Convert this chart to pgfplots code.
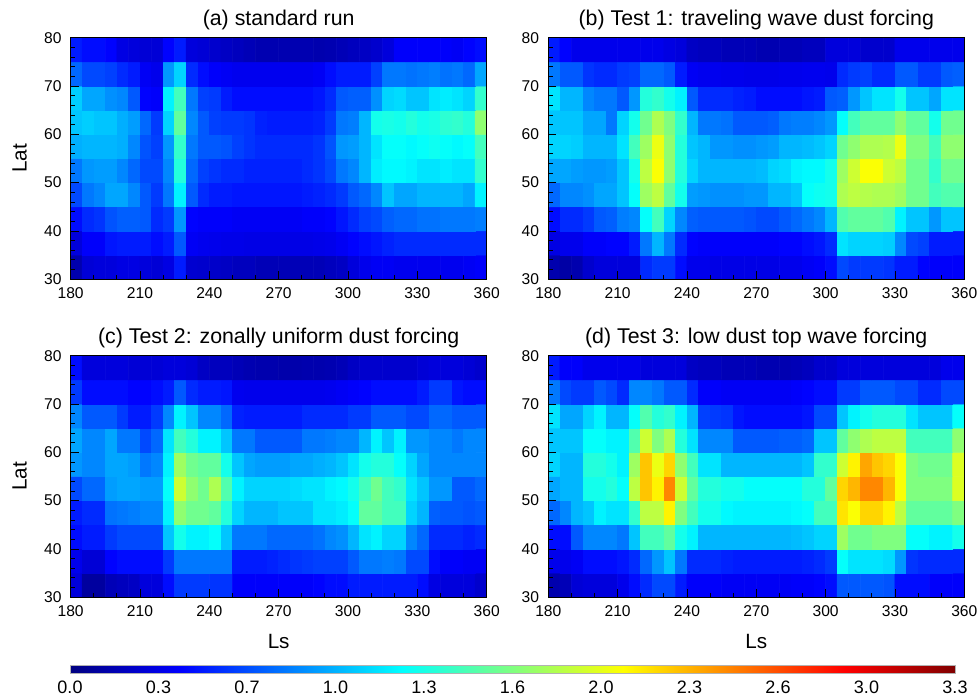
\documentclass[border=0pt]{standalone}
\usepackage{pgfplots}
\pgfplotsset{compat=1.18}
\usepackage{pgfplotstable}
\usepackage{fontspec}
\setmainfont{Liberation Sans}

% values: rows from Lat 30-35 (bottom) to 75-80 (top); 36 columns Ls 180-185 ... 355-360
\pgfplotstableread[header=false,row sep=\\]{
0.15\\ 0.28\\ 0.30\\ 0.30\\ 0.32\\ 0.32\\ 0.30\\ 0.28\\ 0.32\\ 0.50\\ 0.26\\ 0.25\\ 0.24\\ 0.22\\ 0.20\\ 0.20\\ 0.18\\ 0.18\\ 0.18\\ 0.18\\ 0.18\\ 0.18\\ 0.20\\ 0.22\\ 0.30\\ 0.35\\ 0.38\\ 0.38\\ 0.36\\ 0.36\\ 0.36\\ 0.36\\ 0.36\\ 0.36\\ 0.38\\ 0.40\\
0.30\\ 0.40\\ 0.40\\ 0.48\\ 0.50\\ 0.50\\ 0.50\\ 0.45\\ 0.50\\ 0.70\\ 0.38\\ 0.36\\ 0.35\\ 0.34\\ 0.34\\ 0.33\\ 0.33\\ 0.33\\ 0.33\\ 0.33\\ 0.33\\ 0.34\\ 0.35\\ 0.38\\ 0.42\\ 0.45\\ 0.48\\ 0.52\\ 0.55\\ 0.55\\ 0.55\\ 0.55\\ 0.55\\ 0.55\\ 0.55\\ 0.55\\
0.45\\ 0.55\\ 0.58\\ 0.68\\ 0.72\\ 0.72\\ 0.70\\ 0.55\\ 0.60\\ 0.90\\ 0.42\\ 0.40\\ 0.40\\ 0.40\\ 0.38\\ 0.38\\ 0.38\\ 0.38\\ 0.38\\ 0.38\\ 0.40\\ 0.40\\ 0.42\\ 0.48\\ 0.55\\ 0.62\\ 0.65\\ 0.72\\ 0.75\\ 0.75\\ 0.78\\ 0.78\\ 0.80\\ 0.80\\ 0.80\\ 0.82\\
0.65\\ 0.80\\ 0.85\\ 0.95\\ 0.95\\ 0.85\\ 0.70\\ 0.60\\ 0.80\\ 1.20\\ 0.70\\ 0.55\\ 0.50\\ 0.50\\ 0.48\\ 0.48\\ 0.48\\ 0.48\\ 0.48\\ 0.48\\ 0.50\\ 0.52\\ 0.55\\ 0.60\\ 0.70\\ 0.75\\ 0.85\\ 1.05\\ 0.95\\ 0.95\\ 1.00\\ 1.00\\ 1.00\\ 1.00\\ 0.95\\ 1.20\\
0.80\\ 0.90\\ 0.92\\ 0.92\\ 0.85\\ 0.75\\ 0.65\\ 0.65\\ 0.85\\ 1.35\\ 0.75\\ 0.62\\ 0.58\\ 0.55\\ 0.55\\ 0.52\\ 0.52\\ 0.52\\ 0.52\\ 0.52\\ 0.55\\ 0.58\\ 0.65\\ 0.80\\ 0.85\\ 1.00\\ 1.18\\ 1.22\\ 1.22\\ 1.20\\ 1.15\\ 1.15\\ 1.18\\ 1.15\\ 1.15\\ 1.40\\
0.98\\ 1.00\\ 1.00\\ 1.00\\ 0.98\\ 0.85\\ 0.68\\ 0.62\\ 0.90\\ 1.40\\ 0.80\\ 0.70\\ 0.70\\ 0.68\\ 0.62\\ 0.58\\ 0.55\\ 0.55\\ 0.55\\ 0.55\\ 0.55\\ 0.58\\ 0.68\\ 0.90\\ 0.92\\ 1.00\\ 1.15\\ 1.25\\ 1.25\\ 1.22\\ 1.25\\ 1.28\\ 1.25\\ 1.22\\ 1.25\\ 1.45\\
1.05\\ 1.08\\ 1.05\\ 1.05\\ 0.98\\ 0.92\\ 0.75\\ 0.60\\ 1.10\\ 1.55\\ 0.85\\ 0.70\\ 0.62\\ 0.60\\ 0.60\\ 0.58\\ 0.52\\ 0.50\\ 0.50\\ 0.50\\ 0.50\\ 0.52\\ 0.60\\ 0.80\\ 0.82\\ 1.00\\ 1.30\\ 1.32\\ 1.30\\ 1.35\\ 1.30\\ 1.32\\ 1.38\\ 1.40\\ 1.35\\ 1.70\\
1.08\\ 0.95\\ 0.95\\ 0.88\\ 0.85\\ 0.70\\ 0.42\\ 0.40\\ 1.20\\ 1.45\\ 0.80\\ 0.62\\ 0.60\\ 0.50\\ 0.45\\ 0.45\\ 0.45\\ 0.45\\ 0.45\\ 0.45\\ 0.45\\ 0.48\\ 0.55\\ 0.70\\ 0.72\\ 0.72\\ 0.88\\ 1.10\\ 1.12\\ 1.05\\ 1.05\\ 1.15\\ 1.18\\ 1.15\\ 1.10\\ 1.40\\
0.75\\ 0.65\\ 0.65\\ 0.62\\ 0.55\\ 0.50\\ 0.38\\ 0.35\\ 0.90\\ 1.10\\ 0.55\\ 0.45\\ 0.40\\ 0.38\\ 0.36\\ 0.36\\ 0.36\\ 0.36\\ 0.36\\ 0.36\\ 0.36\\ 0.38\\ 0.45\\ 0.50\\ 0.50\\ 0.50\\ 0.62\\ 0.80\\ 0.80\\ 0.78\\ 0.80\\ 0.82\\ 0.78\\ 0.80\\ 0.75\\ 0.95\\
0.50\\ 0.45\\ 0.45\\ 0.42\\ 0.32\\ 0.30\\ 0.28\\ 0.28\\ 0.42\\ 0.50\\ 0.30\\ 0.28\\ 0.25\\ 0.22\\ 0.20\\ 0.18\\ 0.16\\ 0.16\\ 0.16\\ 0.16\\ 0.16\\ 0.15\\ 0.16\\ 0.18\\ 0.20\\ 0.22\\ 0.25\\ 0.30\\ 0.40\\ 0.40\\ 0.40\\ 0.40\\ 0.40\\ 0.38\\ 0.42\\ 0.45\\
}\dataA

\pgfplotstableread[header=false,row sep=\\]{
0.15\\ 0.12\\ 0.15\\ 0.25\\ 0.30\\ 0.30\\ 0.30\\ 0.30\\ 0.55\\ 0.60\\ 0.60\\ 0.45\\ 0.35\\ 0.35\\ 0.33\\ 0.33\\ 0.33\\ 0.33\\ 0.33\\ 0.33\\ 0.35\\ 0.35\\ 0.38\\ 0.40\\ 0.45\\ 0.65\\ 0.60\\ 0.60\\ 0.60\\ 0.58\\ 0.50\\ 0.50\\ 0.42\\ 0.40\\ 0.40\\ 0.40\\
0.32\\ 0.35\\ 0.35\\ 0.40\\ 0.40\\ 0.42\\ 0.42\\ 0.50\\ 0.80\\ 1.00\\ 0.80\\ 0.55\\ 0.42\\ 0.40\\ 0.40\\ 0.40\\ 0.40\\ 0.40\\ 0.40\\ 0.40\\ 0.42\\ 0.42\\ 0.45\\ 0.48\\ 0.55\\ 1.15\\ 1.10\\ 1.10\\ 1.10\\ 1.08\\ 0.85\\ 0.65\\ 0.62\\ 0.50\\ 0.50\\ 0.50\\
0.45\\ 0.55\\ 0.55\\ 0.60\\ 0.70\\ 0.72\\ 0.82\\ 0.85\\ 1.25\\ 1.45\\ 1.10\\ 0.85\\ 0.72\\ 0.70\\ 0.70\\ 0.70\\ 0.70\\ 0.68\\ 0.65\\ 0.65\\ 0.70\\ 0.75\\ 0.80\\ 0.85\\ 1.00\\ 1.50\\ 1.55\\ 1.55\\ 1.55\\ 1.50\\ 1.20\\ 1.05\\ 1.05\\ 0.90\\ 1.05\\ 1.05\\
0.75\\ 0.85\\ 0.85\\ 0.88\\ 0.95\\ 0.95\\ 1.05\\ 1.25\\ 1.75\\ 1.85\\ 1.55\\ 1.30\\ 0.92\\ 0.90\\ 0.88\\ 0.88\\ 0.88\\ 0.90\\ 0.90\\ 1.00\\ 1.00\\ 1.05\\ 1.25\\ 1.28\\ 1.30\\ 1.80\\ 1.85\\ 1.82\\ 1.80\\ 1.80\\ 1.75\\ 1.60\\ 1.60\\ 1.45\\ 1.50\\ 1.50\\
0.95\\ 0.95\\ 0.92\\ 0.90\\ 0.90\\ 0.92\\ 1.05\\ 1.30\\ 1.85\\ 2.05\\ 1.70\\ 1.35\\ 1.10\\ 1.00\\ 1.00\\ 1.00\\ 1.00\\ 1.00\\ 1.02\\ 1.10\\ 1.12\\ 1.20\\ 1.22\\ 1.22\\ 1.30\\ 1.75\\ 1.90\\ 2.05\\ 2.05\\ 1.90\\ 1.85\\ 1.60\\ 1.60\\ 1.40\\ 1.60\\ 1.60\\
1.10\\ 1.10\\ 1.08\\ 1.00\\ 1.00\\ 1.00\\ 1.15\\ 1.45\\ 1.75\\ 2.00\\ 1.70\\ 1.35\\ 1.05\\ 1.00\\ 0.90\\ 0.90\\ 0.88\\ 0.88\\ 0.90\\ 0.92\\ 1.00\\ 1.00\\ 1.02\\ 1.05\\ 1.10\\ 1.60\\ 1.70\\ 1.80\\ 1.80\\ 1.82\\ 2.00\\ 1.65\\ 1.65\\ 1.45\\ 1.70\\ 1.70\\
1.05\\ 1.05\\ 1.05\\ 0.95\\ 0.95\\ 0.80\\ 1.10\\ 1.30\\ 1.60\\ 1.80\\ 1.65\\ 1.40\\ 1.00\\ 0.80\\ 0.80\\ 0.78\\ 0.70\\ 0.70\\ 0.70\\ 0.72\\ 0.80\\ 0.82\\ 0.82\\ 0.85\\ 0.90\\ 1.25\\ 1.45\\ 1.55\\ 1.55\\ 1.55\\ 1.70\\ 1.55\\ 1.55\\ 1.30\\ 1.60\\ 1.60\\
1.15\\ 1.00\\ 1.00\\ 0.85\\ 0.80\\ 0.80\\ 0.70\\ 0.90\\ 1.35\\ 1.40\\ 1.30\\ 1.20\\ 0.70\\ 0.55\\ 0.55\\ 0.55\\ 0.52\\ 0.50\\ 0.45\\ 0.45\\ 0.45\\ 0.45\\ 0.48\\ 0.50\\ 0.70\\ 0.72\\ 0.90\\ 1.05\\ 1.15\\ 1.15\\ 1.30\\ 1.05\\ 1.05\\ 0.95\\ 1.15\\ 1.15\\
0.80\\ 0.70\\ 0.70\\ 0.58\\ 0.55\\ 0.55\\ 0.60\\ 0.62\\ 0.75\\ 0.75\\ 0.70\\ 0.50\\ 0.38\\ 0.36\\ 0.36\\ 0.35\\ 0.35\\ 0.34\\ 0.34\\ 0.34\\ 0.35\\ 0.35\\ 0.36\\ 0.36\\ 0.35\\ 0.55\\ 0.60\\ 0.62\\ 0.55\\ 0.55\\ 0.70\\ 0.70\\ 0.60\\ 0.60\\ 0.70\\ 0.72\\
0.50\\ 0.42\\ 0.35\\ 0.35\\ 0.35\\ 0.35\\ 0.35\\ 0.35\\ 0.35\\ 0.35\\ 0.32\\ 0.30\\ 0.22\\ 0.20\\ 0.20\\ 0.18\\ 0.18\\ 0.18\\ 0.16\\ 0.16\\ 0.18\\ 0.18\\ 0.20\\ 0.20\\ 0.30\\ 0.30\\ 0.30\\ 0.25\\ 0.25\\ 0.25\\ 0.35\\ 0.35\\ 0.35\\ 0.35\\ 0.35\\ 0.35\\
}\dataB

\pgfplotstableread[header=false,row sep=\\]{
0.30\\ 0.10\\ 0.10\\ 0.18\\ 0.20\\ 0.22\\ 0.30\\ 0.30\\ 0.45\\ 0.60\\ 0.60\\ 0.60\\ 0.58\\ 0.58\\ 0.40\\ 0.40\\ 0.40\\ 0.40\\ 0.40\\ 0.40\\ 0.40\\ 0.42\\ 0.45\\ 0.45\\ 0.50\\ 0.50\\ 0.50\\ 0.50\\ 0.50\\ 0.50\\ 0.45\\ 0.32\\ 0.30\\ 0.30\\ 0.30\\ 0.25\\
0.35\\ 0.28\\ 0.28\\ 0.42\\ 0.45\\ 0.45\\ 0.45\\ 0.45\\ 0.60\\ 0.80\\ 0.80\\ 0.80\\ 0.80\\ 0.80\\ 0.50\\ 0.50\\ 0.50\\ 0.52\\ 0.55\\ 0.58\\ 0.60\\ 0.62\\ 0.62\\ 0.62\\ 0.70\\ 0.80\\ 0.80\\ 0.82\\ 0.80\\ 0.65\\ 0.65\\ 0.45\\ 0.40\\ 0.40\\ 0.38\\ 0.38\\
0.45\\ 0.50\\ 0.50\\ 0.60\\ 0.65\\ 0.65\\ 0.65\\ 0.65\\ 1.05\\ 1.30\\ 1.20\\ 1.20\\ 1.25\\ 1.05\\ 0.80\\ 0.80\\ 0.80\\ 0.75\\ 0.75\\ 0.75\\ 0.75\\ 0.78\\ 0.85\\ 0.88\\ 1.00\\ 1.15\\ 1.20\\ 1.10\\ 1.10\\ 0.85\\ 0.75\\ 0.55\\ 0.55\\ 0.55\\ 0.52\\ 0.55\\
0.50\\ 0.55\\ 0.55\\ 0.78\\ 0.80\\ 0.82\\ 0.85\\ 0.85\\ 1.20\\ 1.70\\ 1.60\\ 1.60\\ 1.55\\ 1.35\\ 1.10\\ 1.00\\ 1.00\\ 1.00\\ 1.05\\ 1.05\\ 1.05\\ 1.15\\ 1.15\\ 1.18\\ 1.25\\ 1.55\\ 1.55\\ 1.45\\ 1.45\\ 1.10\\ 1.00\\ 0.72\\ 0.70\\ 0.70\\ 0.68\\ 0.70\\
0.65\\ 0.75\\ 0.75\\ 0.92\\ 0.95\\ 0.95\\ 0.92\\ 0.92\\ 1.25\\ 1.90\\ 1.70\\ 1.60\\ 1.80\\ 1.50\\ 1.20\\ 1.10\\ 1.10\\ 1.10\\ 1.10\\ 1.12\\ 1.15\\ 1.15\\ 1.20\\ 1.22\\ 1.30\\ 1.45\\ 1.60\\ 1.45\\ 1.40\\ 1.15\\ 1.05\\ 0.90\\ 0.90\\ 0.70\\ 0.70\\ 0.75\\
0.90\\ 0.85\\ 0.85\\ 0.95\\ 0.95\\ 0.92\\ 0.80\\ 0.85\\ 1.20\\ 1.75\\ 1.60\\ 1.55\\ 1.55\\ 1.30\\ 1.05\\ 0.95\\ 0.92\\ 0.92\\ 0.92\\ 0.95\\ 0.95\\ 0.98\\ 1.00\\ 1.05\\ 1.15\\ 1.30\\ 1.35\\ 1.35\\ 1.25\\ 1.10\\ 0.95\\ 0.85\\ 0.85\\ 0.85\\ 0.85\\ 0.85\\
0.95\\ 0.85\\ 0.85\\ 0.95\\ 0.80\\ 0.80\\ 0.65\\ 0.75\\ 1.15\\ 1.45\\ 1.35\\ 1.20\\ 1.20\\ 1.05\\ 0.80\\ 0.80\\ 0.70\\ 0.70\\ 0.70\\ 0.70\\ 0.80\\ 0.80\\ 0.82\\ 0.85\\ 0.85\\ 1.00\\ 1.20\\ 1.05\\ 1.20\\ 0.90\\ 0.90\\ 0.85\\ 0.85\\ 0.80\\ 0.85\\ 0.85\\
0.85\\ 0.70\\ 0.70\\ 0.70\\ 0.60\\ 0.50\\ 0.50\\ 0.60\\ 0.85\\ 1.20\\ 1.05\\ 0.85\\ 0.85\\ 0.75\\ 0.52\\ 0.50\\ 0.50\\ 0.50\\ 0.50\\ 0.50\\ 0.55\\ 0.55\\ 0.55\\ 0.55\\ 0.60\\ 0.60\\ 0.70\\ 0.70\\ 0.70\\ 0.65\\ 0.65\\ 0.75\\ 0.75\\ 0.70\\ 0.70\\ 0.70\\
0.60\\ 0.45\\ 0.45\\ 0.45\\ 0.45\\ 0.42\\ 0.42\\ 0.45\\ 0.50\\ 0.70\\ 0.55\\ 0.50\\ 0.50\\ 0.48\\ 0.36\\ 0.35\\ 0.35\\ 0.35\\ 0.35\\ 0.35\\ 0.35\\ 0.35\\ 0.36\\ 0.38\\ 0.40\\ 0.42\\ 0.45\\ 0.45\\ 0.45\\ 0.45\\ 0.50\\ 0.60\\ 0.60\\ 0.48\\ 0.45\\ 0.45\\
0.45\\ 0.30\\ 0.30\\ 0.30\\ 0.30\\ 0.28\\ 0.28\\ 0.28\\ 0.30\\ 0.30\\ 0.28\\ 0.22\\ 0.20\\ 0.20\\ 0.18\\ 0.16\\ 0.15\\ 0.15\\ 0.14\\ 0.14\\ 0.15\\ 0.15\\ 0.16\\ 0.18\\ 0.22\\ 0.25\\ 0.25\\ 0.25\\ 0.25\\ 0.25\\ 0.28\\ 0.30\\ 0.30\\ 0.30\\ 0.28\\ 0.25\\
}\dataC

\pgfplotstableread[header=false,row sep=\\]{
0.15\\ 0.18\\ 0.28\\ 0.30\\ 0.30\\ 0.30\\ 0.35\\ 0.45\\ 0.55\\ 0.65\\ 0.65\\ 0.50\\ 0.40\\ 0.40\\ 0.40\\ 0.38\\ 0.38\\ 0.38\\ 0.38\\ 0.38\\ 0.38\\ 0.40\\ 0.40\\ 0.42\\ 0.45\\ 0.70\\ 0.70\\ 0.70\\ 0.70\\ 0.68\\ 0.45\\ 0.45\\ 0.45\\ 0.40\\ 0.40\\ 0.40\\
0.35\\ 0.35\\ 0.38\\ 0.45\\ 0.45\\ 0.45\\ 0.48\\ 0.55\\ 0.75\\ 0.90\\ 1.05\\ 0.80\\ 0.55\\ 0.55\\ 0.55\\ 0.52\\ 0.50\\ 0.50\\ 0.50\\ 0.50\\ 0.50\\ 0.50\\ 0.52\\ 0.55\\ 0.60\\ 1.25\\ 1.15\\ 1.15\\ 1.15\\ 1.12\\ 0.90\\ 0.58\\ 0.55\\ 0.55\\ 0.55\\ 0.55\\
0.45\\ 0.45\\ 0.70\\ 0.85\\ 0.85\\ 0.85\\ 0.80\\ 1.05\\ 1.45\\ 1.45\\ 1.55\\ 1.30\\ 1.20\\ 1.00\\ 1.00\\ 1.00\\ 1.00\\ 1.00\\ 1.00\\ 1.00\\ 1.00\\ 1.02\\ 1.05\\ 1.10\\ 1.10\\ 1.75\\ 1.60\\ 1.60\\ 1.65\\ 1.65\\ 1.65\\ 1.25\\ 1.25\\ 1.20\\ 1.20\\ 1.30\\
0.75\\ 0.85\\ 1.00\\ 1.05\\ 1.20\\ 1.15\\ 1.15\\ 1.40\\ 1.85\\ 1.85\\ 2.10\\ 1.65\\ 1.45\\ 1.30\\ 1.30\\ 1.22\\ 1.20\\ 1.20\\ 1.20\\ 1.20\\ 1.20\\ 1.22\\ 1.25\\ 1.45\\ 1.45\\ 2.15\\ 2.05\\ 2.20\\ 2.20\\ 2.10\\ 1.85\\ 1.55\\ 1.55\\ 1.55\\ 1.55\\ 1.65\\
0.95\\ 1.00\\ 1.00\\ 1.30\\ 1.30\\ 1.35\\ 1.25\\ 1.85\\ 2.25\\ 2.10\\ 2.45\\ 1.90\\ 1.55\\ 1.35\\ 1.35\\ 1.30\\ 1.30\\ 1.25\\ 1.25\\ 1.25\\ 1.25\\ 1.25\\ 1.35\\ 1.35\\ 1.55\\ 2.20\\ 2.30\\ 2.45\\ 2.45\\ 2.30\\ 2.05\\ 1.65\\ 1.65\\ 1.65\\ 1.65\\ 1.95\\
1.10\\ 1.00\\ 1.00\\ 1.35\\ 1.35\\ 1.30\\ 1.20\\ 1.75\\ 2.25\\ 2.00\\ 2.20\\ 1.70\\ 1.45\\ 1.15\\ 1.15\\ 1.00\\ 1.00\\ 1.00\\ 1.00\\ 1.00\\ 1.00\\ 1.00\\ 1.05\\ 1.40\\ 1.40\\ 1.90\\ 2.10\\ 2.35\\ 2.25\\ 2.20\\ 2.05\\ 1.65\\ 1.60\\ 1.60\\ 1.60\\ 1.95\\
1.05\\ 1.05\\ 1.05\\ 1.25\\ 1.25\\ 1.20\\ 1.20\\ 1.50\\ 1.90\\ 1.65\\ 1.80\\ 1.35\\ 1.15\\ 0.85\\ 0.85\\ 0.85\\ 0.70\\ 0.70\\ 0.70\\ 0.70\\ 0.72\\ 0.72\\ 0.75\\ 1.05\\ 1.05\\ 1.55\\ 1.70\\ 1.80\\ 1.85\\ 1.85\\ 1.85\\ 1.45\\ 1.45\\ 1.45\\ 1.45\\ 1.70\\
1.15\\ 0.95\\ 0.95\\ 1.10\\ 1.20\\ 1.00\\ 1.00\\ 1.25\\ 1.50\\ 1.35\\ 1.40\\ 1.20\\ 1.00\\ 0.62\\ 0.60\\ 0.58\\ 0.48\\ 0.45\\ 0.45\\ 0.45\\ 0.45\\ 0.45\\ 0.48\\ 0.65\\ 0.65\\ 1.05\\ 1.20\\ 1.30\\ 1.35\\ 1.35\\ 1.35\\ 1.15\\ 1.05\\ 1.05\\ 1.05\\ 1.25\\
0.80\\ 0.65\\ 0.60\\ 0.60\\ 0.70\\ 0.65\\ 0.55\\ 0.85\\ 0.85\\ 0.80\\ 0.70\\ 0.70\\ 0.55\\ 0.40\\ 0.40\\ 0.38\\ 0.38\\ 0.38\\ 0.38\\ 0.38\\ 0.38\\ 0.40\\ 0.42\\ 0.45\\ 0.45\\ 0.60\\ 0.60\\ 0.70\\ 0.70\\ 0.70\\ 0.65\\ 0.65\\ 0.55\\ 0.55\\ 0.65\\ 0.65\\
0.50\\ 0.40\\ 0.40\\ 0.35\\ 0.35\\ 0.35\\ 0.35\\ 0.35\\ 0.30\\ 0.30\\ 0.30\\ 0.30\\ 0.22\\ 0.20\\ 0.20\\ 0.18\\ 0.18\\ 0.18\\ 0.16\\ 0.16\\ 0.16\\ 0.18\\ 0.20\\ 0.25\\ 0.25\\ 0.30\\ 0.30\\ 0.30\\ 0.30\\ 0.30\\ 0.30\\ 0.30\\ 0.30\\ 0.30\\ 0.35\\ 0.35\\
}\dataD

\pgfplotsset{
  panel/.style={
    scale only axis, width=312pt, height=181.1pt,
    xmin=180, xmax=360, ymin=30, ymax=80,
    xtick={180,210,...,360}, ytick={30,40,...,80},
    minor x tick num=2, minor y tick num=4,
    tick align=inside, xtick pos=bottom, ytick pos=left,
    major tick length=6pt, minor tick length=3.5pt,
    axis on top,
    colormap/jet, point meta min=0, point meta max=3.3,
    /pgf/number format/assume math mode=true,
    tick label style={font=\fontsize{11.7}{14}\selectfont},
    xticklabel style={inner sep=0pt}, xticklabel shift=6.3pt,
    yticklabel style={inner sep=0pt}, yticklabel shift=6.7pt,
    axis line style={black, line width=0.6pt},
    tick style={black, line width=0.6pt},
    every axis title shift=0pt,
    title style={at={(axis description cs:0.5,1.0526)}, anchor=base, inner sep=0pt,
                 font=\fontsize{16}{19}\selectfont},
    ylabel style={at={(axis description cs:-0.1058,0.5)}, anchor=base, inner sep=0pt,
                 font=\fontsize{15.5}{18}\selectfont},
    xlabel style={at={(axis description cs:0.5,-0.214)}, anchor=base, inner sep=0pt,
                 font=\fontsize{15.5}{18}\selectfont},
  },
  cells/.style={matrix plot*, mesh/cols=36, point meta=explicit},
}
% cell centres from the running index: column = index mod 36, row = index div 36
\pgfplotsset{/pgfplots/table/grid/.style={x index=0, y index=0, meta index=0,
  x expr={182.5+5*(\coordindex-36*floor((\coordindex+0.5)/36))},
  y expr={32.5+5*floor((\coordindex+0.5)/36)}}}

\begin{document}
\begin{tikzpicture}
\path[use as bounding box] (0,0) rectangle (734.25pt,-524.25pt);

\begin{axis}[panel, at={(53.0pt,-28.3pt)}, anchor=north west,
  title={(a) standard run}, ylabel={Lat}]
\addplot[cells] table[grid] {\dataA};
\end{axis}

\begin{axis}[panel, at={(411.2pt,-28.3pt)}, anchor=north west,
  title={(b) Test 1: traveling wave dust forcing}]
\addplot[cells] table[grid] {\dataB};
\end{axis}

\begin{axis}[panel, at={(53.0pt,-266.8pt)}, anchor=north west,
  title={(c) Test 2: zonally uniform dust forcing}, ylabel={Lat}, xlabel={Ls},
  colorbar horizontal,
  colorbar style={
    at={(parent axis.south west)}, anchor=north west, yshift=-42.5pt, xshift=-0.5pt,
    scale only axis, width=663.75pt, height=5.8pt,
    xmin=0, xmax=3.3,
    xtick={0,0.33,0.66,0.99,1.32,1.65,1.98,2.31,2.64,2.97,3.3},
    xticklabels={0.0,0.3,0.7,1.0,1.3,1.6,2.0,2.3,2.6,3.0,3.3},
    xticklabel style={font=\fontsize{13.5}{16}\selectfont, inner sep=0pt},
    xticklabel shift=5.5pt,
    major tick length=0pt, minor tick length=0pt,
    axis line style={gray!60, line width=0.5pt},
  }]
\addplot[cells] table[grid] {\dataC};
\end{axis}

\begin{axis}[panel, at={(411.2pt,-266.8pt)}, anchor=north west,
  title={(d) Test 3: low dust top wave forcing}, xlabel={Ls}]
\addplot[cells] table[grid] {\dataD};
\end{axis}
\end{tikzpicture}
\end{document}
